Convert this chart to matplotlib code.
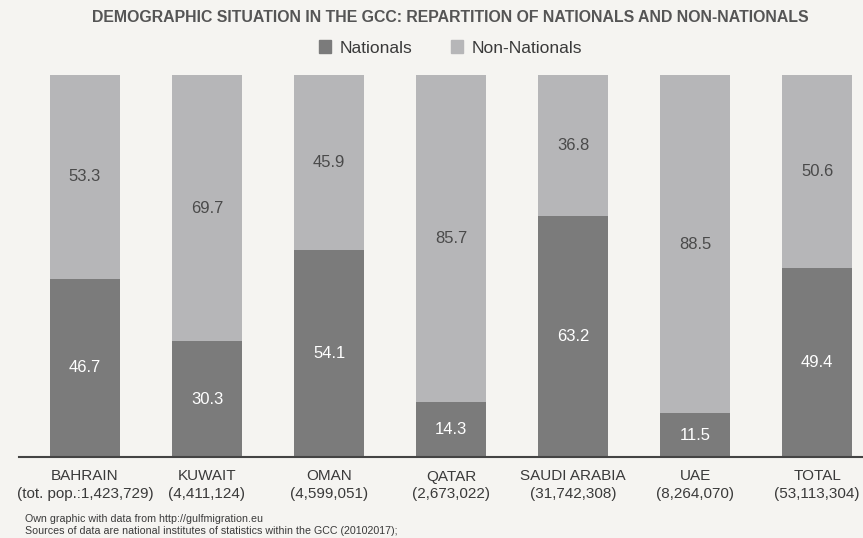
#!/usr/bin/env python3
# coding: utf-8

import numpy as np
import matplotlib
matplotlib.use('Agg')
import matplotlib.pyplot as plt
from matplotlib.patches import Patch

countries = ['BAHRAIN', 'KUWAIT', 'OMAN', 'QATAR', 'SAUDI ARABIA', 'UAE', 'TOTAL']
populations = ['(tot. pop.:1,423,729)', '(4,411,124)', '(4,599,051)', '(2,673,022)',
               '(31,742,308)', '(8,264,070)', '(53,113,304)']
nationals = [46.7, 30.3, 54.1, 14.3, 63.2, 11.5, 49.4]
non_nationals = [53.3, 69.7, 45.9, 85.7, 36.8, 88.5, 50.6]

BG = '#f5f4f1'
C_NAT = '#7b7b7b'
C_NON = '#b6b6b8'
TXT = '#3a3a3a'

plt.rcParams['font.family'] = ['Liberation Sans', 'DejaVu Sans']

fig = plt.figure(figsize=(8.63, 5.38), dpi=100, facecolor=BG)
ax = fig.add_axes([19/863, 81/538, 844/863, 382/538])
ax.set_facecolor(BG)

x = np.arange(len(countries))
ax.bar(x, nationals, width=0.574, color=C_NAT, label='Nationals')
ax.bar(x, non_nationals, width=0.574, bottom=nationals, color=C_NON, label='Non-Nationals')

for i in range(len(x)):
    ax.text(x[i], nationals[i] / 2, '{:.1f}'.format(nationals[i]), ha='center', va='center',
            color='white', fontsize=12)
    ax.text(x[i], nationals[i] + non_nationals[i] / 2, '{:.1f}'.format(non_nationals[i]),
            ha='center', va='center', color='#4a4a4a', fontsize=12)

ax.set_xlim(-0.54, 6.375)
ax.set_ylim(0, 100)
ax.set_yticks([])
ax.set_xticks(x)
ax.set_xticklabels([c + '\n' + p for c, p in zip(countries, populations)],
                   fontsize=11, color=TXT, linespacing=1.3)
ax.tick_params(axis='x', length=0, pad=9)
for s in ['top', 'right', 'left']:
    ax.spines[s].set_visible(False)
ax.spines['bottom'].set_color('#444444')
ax.spines['bottom'].set_linewidth(1.5)

fig.text(450/863, 1 - 17/538, 'DEMOGRAPHIC SITUATION IN THE GCC: REPARTITION OF NATIONALS AND NON-NATIONALS',
         ha='center', va='center', fontsize=11.4, fontweight='bold', color='#555555')

handles = [Patch(color=C_NAT), Patch(color=C_NON)]
fig.legend(handles, ['Nationals', 'Non-Nationals'], loc='center', bbox_to_anchor=(0.522, 1 - 48/538),
           ncol=2, frameon=False, fontsize=12.5, handlelength=0.7, handleheight=0.7,
           handletextpad=0.5, columnspacing=2.2, labelcolor=TXT)

fig.text(25/863, 1 - 519/538, 'Own graphic with data from http://gulfmigration.eu',
         fontsize=7.7, color=TXT, va='center')
fig.text(25/863, 1 - 531/538, 'Sources of data are national institutes of statistics within the GCC (20102017);',
         fontsize=7.7, color=TXT, va='center')

fig.savefig('out.png', dpi=100, facecolor=BG)
